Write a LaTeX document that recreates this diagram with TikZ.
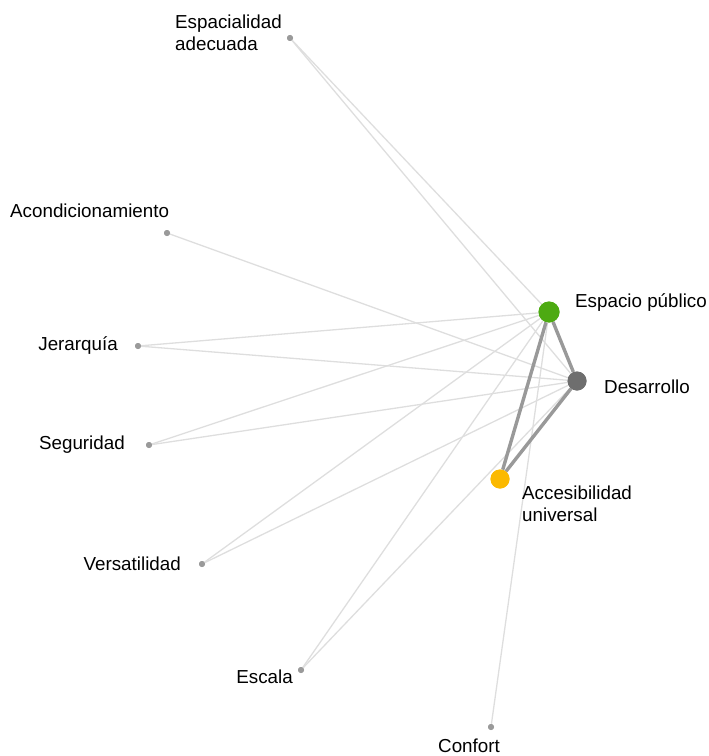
\documentclass[tikz,border=0pt]{standalone}
\usepackage{fontspec}
\setmainfont{Liberation Sans}
\definecolor{hubgreen}{HTML}{4DAA12}
\definecolor{hubyellow}{HTML}{FBB900}
\definecolor{hubgrey}{HTML}{6E6E6E}
\definecolor{leafgrey}{HTML}{9A9A9A}
\definecolor{weaklink}{HTML}{DEDEDE}
\definecolor{stronglink}{HTML}{999999}
\begin{document}
\begin{tikzpicture}[x=1bp,y=-1bp,
    hub/.style = {circle,inner sep=0pt,minimum size=19bp},
    leaf/.style = {circle,fill=leafgrey,inner sep=0pt,minimum size=6bp},
    weak/.style = {draw=weaklink,line width=1.3bp},
    strong/.style = {draw=stronglink,line width=3.4bp},
    lbl/.style = {inner sep=0pt,font=\fontsize{18.8bp}{22bp}\selectfont,align=left}]
    \useasboundingbox (0,0) rectangle (709,756);

    % nodes
    \node[hub,fill=hubgreen,minimum size=21bp] (ep) at (549,312) {};
    \node[hub,fill=hubgrey]   (des) at (577,381) {};
    \node[hub,fill=hubyellow] (acc) at (500,479) {};
    \node[leaf] (esp) at (290,38) {};
    \node[leaf] (aco) at (167,233) {};
    \node[leaf] (jer) at (138,346) {};
    \node[leaf] (seg) at (149,445) {};
    \node[leaf] (ver) at (202,564) {};
    \node[leaf] (esc) at (301,670) {};
    \node[leaf] (con) at (491,727) {};

    % weak links
    \foreach \leaf in {esp,jer,seg,ver,esc}{
        \path[weak] (\leaf) -- (ep);
        \path[weak] (\leaf) -- (des);
    }
    \path[weak] (aco) -- (des);
    \path[weak] (con) -- (ep);

    % strong links
    \path[strong] (ep) -- (des);
    \path[strong] (ep) -- (acc);
    \path[strong] (des) -- (acc);

    % dots again, over the links
    \node[hub,fill=hubgreen,minimum size=21bp] at (ep) {};
    \node[hub,fill=hubgrey]   at (des) {};
    \node[hub,fill=hubyellow] at (acc) {};
    \foreach \leaf in {esp,aco,jer,seg,ver,esc,con}
        \node[leaf] at (\leaf) {};

    % labels
    \node[lbl,anchor=base west] (ep-l)  at (575,307) {Espacio público};
    \node[lbl,anchor=base west] (des-l) at (604,393) {Desarrollo};
    \node[lbl,anchor=north west] (acc-l) at (522,486) {Accesibilidad\\universal};
    \node[lbl,anchor=north west] (esp-l) at (175,15) {Espacialidad\\adecuada};
    \node[lbl,anchor=base west] (aco-l) at (10,217) {Acondicionamiento};
    \node[lbl,anchor=base east] (jer-l) at (118,350) {Jerarquía};
    \node[lbl,anchor=base east] (seg-l) at (125,449) {Seguridad};
    \node[lbl,anchor=base east] (ver-l) at (181,570) {Versatilidad};
    \node[lbl,anchor=base east] (esc-l) at (293,683) {Escala};
    \node[lbl,anchor=base]      (con-l) at (469,752) {Confort};
\end{tikzpicture}
\end{document}
